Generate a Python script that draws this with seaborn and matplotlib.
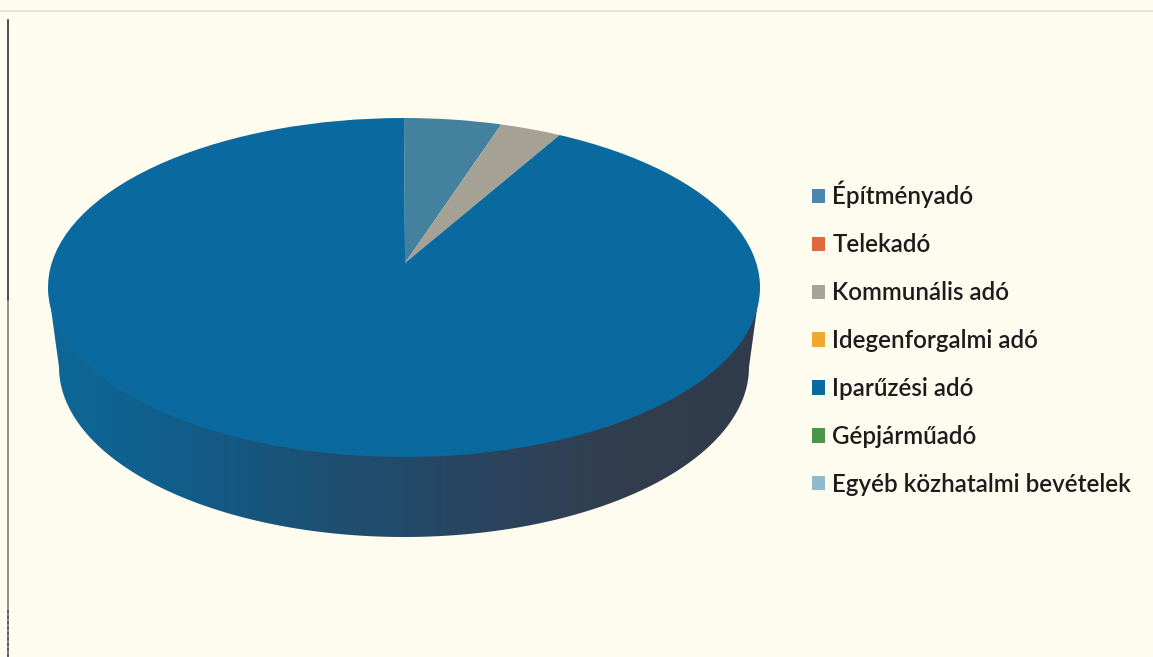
import numpy as np
import matplotlib
matplotlib.use('Agg')
import matplotlib.pyplot as plt
import seaborn as sns
from matplotlib.patches import Polygon, Patch

# Share of local tax income
categories = ['Építményadó', 'Telekadó', 'Kommunális adó', 'Idegenforgalmi adó',
              'Iparűzési adó', 'Gépjárműadó', 'Egyéb közhatalmi bevételek']
shares = [4.4, 0.0, 2.8, 0.0, 92.8, 0.0, 0.0]

slice_colors = ['#44819f', '#e0683f', '#a6a195', '#f0a930', '#0a6a9f', '#4b9449', '#8ebbd0']
legend_colors = ['#4a86ae', '#e0683f', '#a7a398', '#f0a930', '#0a6a9f', '#4b9449', '#8ebbd0']
wall_colors = ['#0d6898', '#125c88', '#1d4f72', '#2a4560', '#323e4e', '#303c4c']
paper = '#fefcef'
W, H = 1153, 657

sns.set_theme(style='white')
plt.rcParams['font.family'] = ['Lato', 'DejaVu Sans']

fig = plt.figure(figsize=(W / 100, H / 100), dpi=100, facecolor=paper)

# background axes in pixel units: side wall of the disc and the scan frame
bg = fig.add_axes([0, 0, 1, 1], facecolor=paper)
bg.set_xlim(0, W)
bg.set_ylim(H, 0)
bg.axis('off')

t = np.linspace(0, np.pi, 200)
low_x = 404 - 345 * np.cos(t)
low_y = 367 + 170 * np.sin(t)
outline = np.column_stack([np.r_[48, low_x, 760], np.r_[287, low_y, 287]])
wall_patch = Polygon(outline, closed=True, facecolor='none', edgecolor='none')
bg.add_patch(wall_patch)
wall_cmap = sns.blend_palette(wall_colors, as_cmap=True)
img = bg.imshow(np.linspace(0, 1, 256).reshape(1, -1), cmap=wall_cmap, aspect='auto',
                extent=(48, 760, 540, 280))
img.set_clip_path(wall_patch)
bg.set_xlim(0, W)
bg.set_ylim(H, 0)

bg.plot([0, W], [11, 11], color='#e6e6d6', lw=1.5)
bg.plot([8, 8], [20, H], color='#8a8a84', lw=1.3)
bg.plot([8, 8], [20, 300], color='#4c4c4c', lw=1.3)
bg.plot([8, 8], [610, H], color='#5a5a5a', lw=1.3, ls=(0, (2, 1)))

# top face of the disc
ax = fig.add_axes([48 / W, (H - 457) / H, 712 / W, 339 / H], facecolor='none')
wedges, _ = ax.pie(shares, colors=sns.color_palette(slice_colors), startangle=90,
                   counterclock=False, radius=1, wedgeprops={'linewidth': 0})
ax.set_aspect('auto')
ax.set_xlim(-1, 1)
ax.set_ylim(-1, 1)
ax.axis('off')

# perspective: the apex sits above the middle of the ellipse
for w in wedges:
    path = w.get_path()
    centre = np.all(np.abs(path.vertices) < 1e-9, axis=1)
    path.vertices[centre] = [0.003, 0.145]

handles = [Patch(facecolor=c, edgecolor='none') for c in legend_colors]
leg = fig.legend(handles, categories, loc='upper left', bbox_to_anchor=(812 / W, 1 - 181 / H),
                 frameon=False, handlelength=0.54, handleheight=0.54,
                 handletextpad=0.3, labelspacing=1.03, borderpad=0, borderaxespad=0,
                 labelcolor='#1c1c1c', prop={'size': 17.4, 'weight': 'semibold'})

fig.savefig('out.png', dpi=100, facecolor=paper)
